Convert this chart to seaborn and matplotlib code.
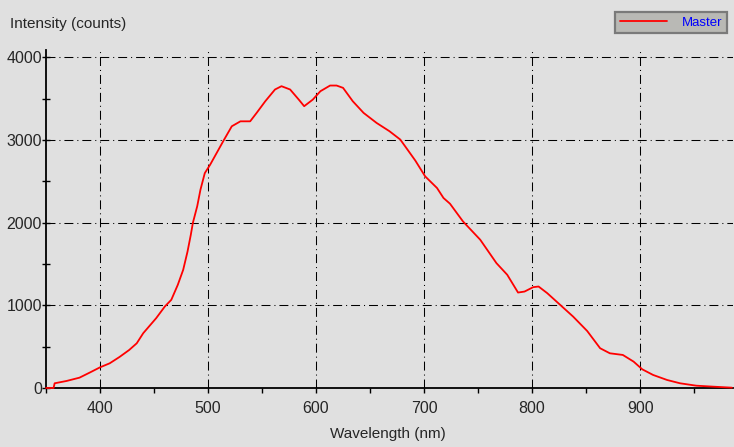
import numpy as np
import pandas as pd
import seaborn as sns
import matplotlib.pyplot as plt
from matplotlib.ticker import MultipleLocator

# spectrum (nm, counts)
wavelength = [350, 357, 358, 369, 381, 391, 400, 409, 418, 427, 434, 440,
              452, 460, 466, 472, 477, 481, 484, 486, 490, 493, 497, 502,
              508, 514, 522, 530, 539, 545, 553, 562, 568, 576, 584, 589,
              597, 604, 613, 619, 625, 634, 644, 656, 668, 678, 686, 692,
              701, 712, 718, 724, 736, 752, 767, 777, 787, 793, 801, 806,
              814, 826, 838, 851, 863, 872, 884, 894, 902, 912, 925, 937,
              952, 968, 985]
intensity = [0, 0, 57, 85, 125, 190, 250, 299, 375, 460, 541, 663,
             845, 986, 1067, 1248, 1430, 1650, 1850, 2000, 2200, 2400, 2600, 2703,
             2844, 2985, 3167, 3227, 3227, 3329, 3470, 3612, 3652, 3612, 3490, 3410,
             3490, 3591, 3660, 3660, 3632, 3470, 3329, 3208, 3107, 3006, 2860, 2750,
             2561, 2420, 2299, 2230, 2016, 1794, 1511, 1370, 1155, 1167, 1220, 1228,
             1148, 1006, 864, 690, 481, 420, 400, 319, 226, 158, 97, 57,
             28, 16, 4]
series_name = "Master"

x_major = [400, 500, 600, 700, 800, 900]
y_major = [0, 1000, 2000, 3000, 4000]

bg = "#e0e0e0"
sns.set_theme(style="white", rc={"figure.facecolor": bg, "axes.facecolor": bg})
plt.rcParams["font.family"] = ["Liberation Sans", "DejaVu Sans"]

df = pd.DataFrame({"wavelength": wavelength, "intensity": intensity})

fig = plt.figure(figsize=(7.34, 4.47), dpi=100)
ax = fig.add_axes([46 / 734, 1 - 388 / 447, 687 / 734, 338 / 447])

sns.lineplot(data=df, x="wavelength", y="intensity", color="red", lw=1.3,
             estimator=None, sort=False, ax=ax, label=series_name)
for ln in ax.lines:
    ln.set_zorder(3)
    ln.set_clip_on(False)

ax.set_xlim(350, 986)
ax.set_ylim(0, 4090)
ax.set_xticks(x_major)
ax.set_yticks(y_major)
ax.xaxis.set_minor_locator(MultipleLocator(50))
ax.yaxis.set_minor_locator(MultipleLocator(500))

dashdot = (0, (8.6, 3.8, 1, 3.8))
ax.grid(True, which="major", color="black", lw=0.75, linestyle=dashdot)
ax.grid(False, which="minor")

sns.despine(ax=ax, top=True, right=True)
for s in ("left", "bottom"):
    ax.spines[s].set_color("black")
    ax.spines[s].set_linewidth(1.3)

ax.tick_params(axis="x", which="both", direction="out", length=3.6, width=1,
               color="black", labelsize=11.5, pad=6, bottom=True)
ax.tick_params(axis="y", which="both", direction="inout", length=5.8, width=1,
               color="black", labelsize=11.5, pad=0, left=True)

ax.set_xlabel("")
ax.set_ylabel("")
fig.text(388 / 734, 1 - 434 / 447, "Wavelength (nm)", ha="center", va="center",
         fontsize=11)
fig.text(10 / 734, 1 - 24 / 447, "Intensity (counts)", ha="left", va="center",
         fontsize=11)

leg = ax.legend(loc="upper right", bbox_to_anchor=(727 / 734, 1 - 12 / 447),
                bbox_transform=fig.transFigure, frameon=True, fancybox=False,
                facecolor="#b9b9b5", edgecolor="#7a7a7a", framealpha=1,
                fontsize=9.5, borderpad=0.35, handlelength=3.6,
                handletextpad=1.1, borderaxespad=0)
leg.get_frame().set_linewidth(1.6)
for t in leg.get_texts():
    t.set_color("blue")

fig.savefig("out.png", dpi=100, facecolor=bg)
